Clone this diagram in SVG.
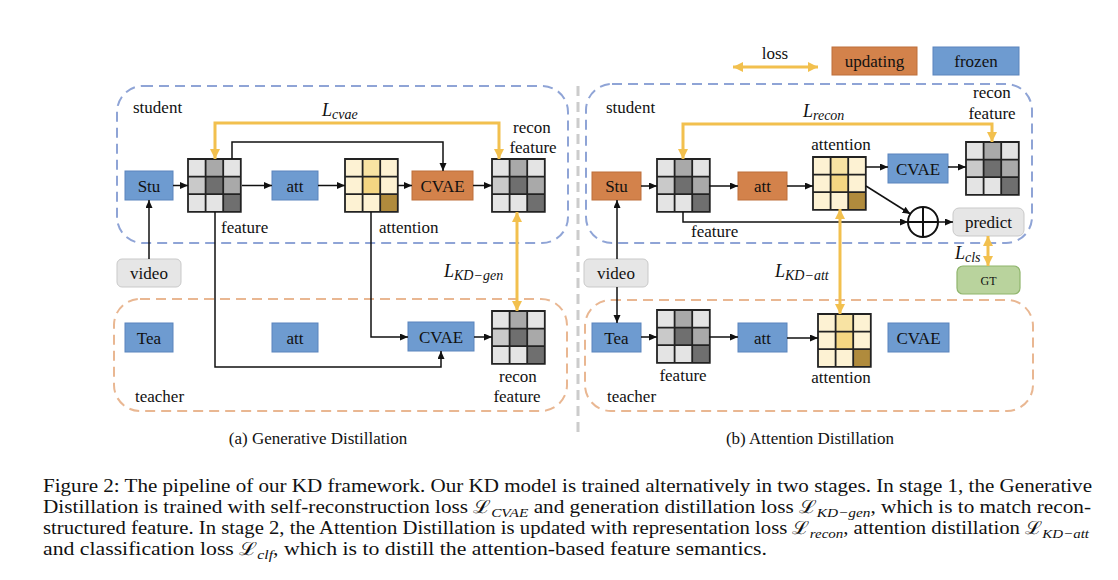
<svg xmlns="http://www.w3.org/2000/svg" xmlns:xlink="http://www.w3.org/1999/xlink" width="1118" height="580" viewBox="0 0 1118 580">
<style>
text{font-family:"Liberation Serif","DejaVu Serif",serif;fill:#111;}
.lbl{font-size:17px;}
.mid{text-anchor:middle;}
.blue{fill:#6e9bd0;stroke:#5a84bd;stroke-width:1;}
.orange{fill:#d3824b;stroke:#bd6f3b;stroke-width:1;}
.grey{fill:#e6e6e6;stroke:#c9c9c9;stroke-width:1;}
.green{fill:#b9d39d;stroke:#8fb56c;stroke-width:1.2;}
.stud{fill:none;stroke:#8fa4d6;stroke-width:2;stroke-dasharray:10 6;}
.teach{fill:none;stroke:#e9b792;stroke-width:2;stroke-dasharray:10 6;}
.conn path{fill:none;stroke:#111;stroke-width:1.5;marker-end:url(#ah);}
.loss path{fill:none;stroke:#f2c04e;stroke-width:3;marker-start:url(#yh);marker-end:url(#yh);}
.m{font-style:italic;font-size:18px;}
.ms{font-style:italic;font-size:14px;}
.cap{font-size:18px;}
.cs{font-style:italic;font-size:13px;}
.sub{font-size:17px;}
</style>
<defs>
<marker id="ah" markerUnits="userSpaceOnUse" markerWidth="8" markerHeight="8" refX="8" refY="3.5" orient="auto"><path d="M0,0 L8,3.5 L0,7 z" fill="#111"/></marker>
<marker id="yh" markerUnits="userSpaceOnUse" markerWidth="11" markerHeight="11" refX="10" refY="5" orient="auto-start-reverse"><path d="M0,0 L10,5 L0,10 z" fill="#f2c04e"/></marker>
<g id="fgrid">
<rect x="0" y="0" width="17.6" height="17.6" fill="#e4e4e4"/><rect x="17.6" y="0" width="17.6" height="17.6" fill="#a9a9a9"/><rect x="35.2" y="0" width="17.6" height="17.6" fill="#e4e4e4"/>
<rect x="0" y="17.6" width="17.6" height="17.6" fill="#c9c9c9"/><rect x="17.6" y="17.6" width="17.6" height="17.6" fill="#6f6f6f"/><rect x="35.2" y="17.6" width="17.6" height="17.6" fill="#a9a9a9"/>
<rect x="0" y="35.2" width="17.6" height="17.6" fill="#e4e4e4"/><rect x="17.6" y="35.2" width="17.6" height="17.6" fill="#e4e4e4"/><rect x="35.2" y="35.2" width="17.6" height="17.6" fill="#6f6f6f"/>
<path d="M0,0H52.8V52.8H0Z M17.6,0V52.8 M35.2,0V52.8 M0,17.6H52.8 M0,35.2H52.8" fill="none" stroke="#222" stroke-width="1.8"/>
</g>
<g id="agrid">
<rect x="0" y="0" width="17.6" height="17.6" fill="#fdf2d3"/><rect x="17.6" y="0" width="17.6" height="17.6" fill="#f8e3a3"/><rect x="35.2" y="0" width="17.6" height="17.6" fill="#fdf2d3"/>
<rect x="0" y="17.6" width="17.6" height="17.6" fill="#fdf2d3"/><rect x="17.6" y="17.6" width="17.6" height="17.6" fill="#f4d682"/><rect x="35.2" y="17.6" width="17.6" height="17.6" fill="#fdf2d3"/>
<rect x="0" y="35.2" width="17.6" height="17.6" fill="#fdf2d3"/><rect x="17.6" y="35.2" width="17.6" height="17.6" fill="#fdf2d3"/><rect x="35.2" y="35.2" width="17.6" height="17.6" fill="#b08b3d"/>
<path d="M0,0H52.8V52.8H0Z M17.6,0V52.8 M35.2,0V52.8 M0,17.6H52.8 M0,35.2H52.8" fill="none" stroke="#222" stroke-width="1.8"/>
</g>
</defs>
<rect width="1118" height="580" fill="#fff"/>

<!-- containers -->
<g id="left-student-region"><rect class="stud" x="117" y="86" width="451" height="157" rx="26"/><text class="lbl" x="133" y="113">student</text></g>
<g id="left-teacher-region"><rect class="teach" x="114" y="299" width="453" height="112" rx="26"/><text class="lbl" x="135" y="402">teacher</text></g>
<g id="right-student-region"><rect class="stud" x="586" y="84" width="446" height="159" rx="26"/><text class="lbl" x="606" y="113">student</text></g>
<g id="right-teacher-region"><rect class="teach" x="585" y="300" width="448" height="111" rx="26"/><text class="lbl" x="607" y="402">teacher</text></g>
<path d="M578,86V434" stroke="#cccccc" stroke-width="3" stroke-dasharray="10 6" fill="none"/>

<!-- legend -->
<g id="legend-loss"><text class="lbl mid" x="775" y="59">loss</text></g>
<g id="legend-updating"><rect class="orange" x="832" y="47" width="85" height="28"/><text class="lbl mid" x="874.5" y="67">updating</text></g>
<g id="legend-frozen"><rect class="blue" x="933" y="47" width="86" height="28"/><text class="lbl mid" x="976" y="67">frozen</text></g>

<!-- left panel nodes -->
<g id="a-stu"><rect class="blue" x="125" y="171" width="48" height="29"/><text class="lbl mid" x="149" y="191.5">Stu</text></g>
<g id="a-feature"><use xlink:href="#fgrid" x="188" y="159"/><text class="lbl" x="221" y="233">feature</text></g>
<g id="a-att"><rect class="blue" x="272" y="171" width="46" height="29"/><text class="lbl mid" x="295" y="191.5">att</text></g>
<g id="a-attention"><use xlink:href="#agrid" x="345" y="159"/><text class="lbl" x="379" y="233">attention</text></g>
<g id="a-cvae"><rect class="orange" x="412" y="171" width="61" height="29"/><text class="lbl mid" x="442.5" y="191.5">CVAE</text></g>
<g id="a-recon"><use xlink:href="#fgrid" x="492" y="159"/><text class="lbl mid" x="532" y="133">recon</text><text class="lbl mid" x="533" y="153">feature</text></g>
<g id="a-video"><rect class="grey" x="117" y="259" width="64" height="28" rx="5"/><text class="lbl mid" x="149" y="279">video</text></g>
<g id="a-tea"><rect class="blue" x="125" y="323" width="48" height="29"/><text class="lbl mid" x="149" y="343.5">Tea</text></g>
<g id="a-tatt"><rect class="blue" x="272" y="323" width="46" height="29"/><text class="lbl mid" x="295" y="343.5">att</text></g>
<g id="a-tcvae"><rect class="blue" x="408" y="322" width="66" height="29"/><text class="lbl mid" x="441" y="342.5">CVAE</text></g>
<g id="a-trecon"><use xlink:href="#fgrid" x="492" y="311"/><text class="lbl mid" x="518" y="382">recon</text><text class="lbl mid" x="517" y="402">feature</text></g>

<!-- right panel nodes -->
<g id="b-stu"><rect class="orange" x="592" y="172" width="49" height="28"/><text class="lbl mid" x="616.5" y="192">Stu</text></g>
<g id="b-feature"><use xlink:href="#fgrid" x="657" y="159"/><text class="lbl" x="691" y="237">feature</text></g>
<g id="b-att"><rect class="orange" x="738" y="172" width="49" height="28"/><text class="lbl mid" x="762.5" y="192">att</text></g>
<g id="b-attention"><use xlink:href="#agrid" x="813" y="157"/><text class="lbl mid" x="841" y="150">attention</text></g>
<g id="b-cvae"><rect class="blue" x="888" y="154" width="60" height="29"/><text class="lbl mid" x="918" y="174.5">CVAE</text></g>
<g id="b-recon"><use xlink:href="#fgrid" x="966" y="142"/><text class="lbl mid" x="992" y="98">recon</text><text class="lbl mid" x="992" y="119">feature</text></g>
<g id="b-oplus"><circle cx="923" cy="222" r="15" fill="#fff" stroke="#111" stroke-width="2"/><path d="M908,222H938M923,207V237" stroke="#111" stroke-width="2"/></g>
<g id="b-predict"><rect class="grey" x="953" y="208" width="71" height="28" rx="6"/><text class="lbl mid" x="988.5" y="228">predict</text></g>
<g id="b-gt"><rect class="green" x="957" y="266" width="63" height="28" rx="6"/><text class="mid" style="font-size:12px" x="988.5" y="284.5">GT</text></g>
<g id="b-video"><rect class="grey" x="584" y="259" width="64" height="28" rx="5"/><text class="lbl mid" x="616" y="279">video</text></g>
<g id="b-tea"><rect class="blue" x="592" y="323" width="49" height="29"/><text class="lbl mid" x="616.5" y="343.5">Tea</text></g>
<g id="b-tfeature"><use xlink:href="#fgrid" x="657" y="310"/><text class="lbl mid" x="683" y="381">feature</text></g>
<g id="b-tatt"><rect class="blue" x="738" y="323" width="49" height="29"/><text class="lbl mid" x="762.5" y="343.5">att</text></g>
<g id="b-tattention"><use xlink:href="#agrid" x="818" y="314"/><text class="lbl mid" x="841" y="383">attention</text></g>
<g id="b-tcvae"><rect class="blue" x="888" y="323" width="61" height="29"/><text class="lbl mid" x="918.5" y="343.5">CVAE</text></g>

<!-- connectors -->
<g id="connectors">
<g class="conn">
<path d="M173,185.5H188"/><path d="M242,185.5H272"/><path d="M318,185.5H345"/><path d="M398,185.5H412"/><path d="M473,185.5H492"/>
<path d="M232,159V142H443V171"/>
<path d="M215,212V367H441V351"/>
<path d="M371,212V337H408"/>
<path d="M149,259V200"/>
<path d="M474,337H492"/>
<path d="M641,186H657"/><path d="M709,186H738"/><path d="M787,186H813"/><path d="M866,167H888"/><path d="M948,167H966"/>
<path d="M866,186L910.5,214"/>
<path d="M683,212V222H908"/>
<path d="M938,222H953"/>
<path d="M617,259V200"/><path d="M617,287V323"/>
<path d="M641,337H657"/><path d="M709,337H738"/><path d="M787,338H818"/>
</g>
<g class="loss">
<path d="M215,159V123H499V159"/>
<path d="M517,212V311"/>
<path d="M683,159V124H992V142"/>
<path d="M840,209V314"/>
<path d="M988,236V266"/>
<path d="M733,67H818"/>
</g>
</g>

<!-- loss labels -->
<text class="m" x="322" y="116">L<tspan class="ms" dy="3">cvae</tspan></text>
<text class="m" x="444" y="277">L<tspan class="ms" dy="3">KD−gen</tspan></text>
<text class="m" x="803" y="117">L<tspan class="ms" dy="3">recon</tspan></text>
<text class="m" x="775" y="277">L<tspan class="ms" dy="3">KD−att</tspan></text>
<text class="m" x="955" y="259">L<tspan class="ms" dy="3">cls</tspan></text>

<!-- sub captions -->
<text class="sub mid" x="318" y="444">(a) Generative  Distillation</text>
<text class="sub mid" x="810" y="444">(b) Attention Distillation</text>

<!-- figure caption -->
<text class="cap" x="43" y="492" textLength="1049" lengthAdjust="spacingAndGlyphs">Figure 2: The pipeline of our KD framework. Our KD model is trained alternatively in two stages. In stage 1, the Generative</text>
<text class="cap" x="43" y="513" textLength="1048" lengthAdjust="spacingAndGlyphs">Distillation is trained with self-reconstruction loss ℒ<tspan class="cs" dy="4">CVAE</tspan><tspan dy="-4"> and generation distillation loss ℒ</tspan><tspan class="cs" dy="4">KD−gen</tspan><tspan dy="-4">, which is to match recon-</tspan></text>
<text class="cap" x="43" y="534" textLength="1046" lengthAdjust="spacingAndGlyphs">structured feature. In stage 2, the Attention Distillation is updated with representation loss ℒ<tspan class="cs" dy="4">recon</tspan><tspan dy="-4">, attention distillation ℒ</tspan><tspan class="cs" dy="4">KD−att</tspan></text>
<text class="cap" x="43" y="555" textLength="724" lengthAdjust="spacingAndGlyphs">and classification loss ℒ<tspan class="cs" dy="4">clf</tspan><tspan dy="-4">, which is to distill the attention-based feature semantics.</tspan></text>
</svg>
